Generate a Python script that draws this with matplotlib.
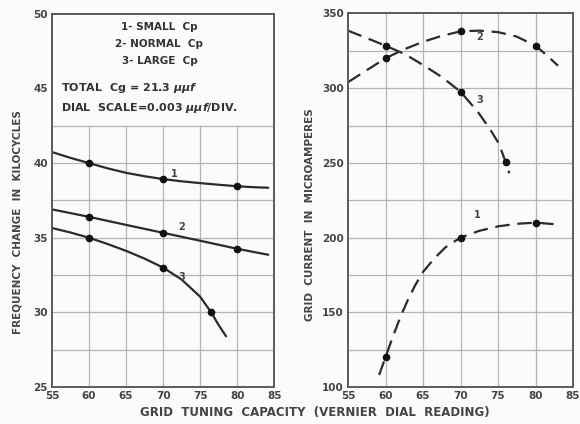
import matplotlib
matplotlib.use("Agg")
import matplotlib.pyplot as plt

# left chart: frequency change (kc) vs vernier dial reading
# curve traces read off the picture, measured points kept separate
f1_x = [55, 57.5, 60, 62.5, 65, 67.5, 70, 72.5, 75, 77.5, 80, 82.5, 84.2]
f1_y = [40.74, 40.35, 40.0, 39.65, 39.35, 39.12, 38.93, 38.78, 38.66, 38.55, 38.45, 38.38, 38.35]
f2_x = [55, 60, 65, 70, 75, 80, 84.2]
f2_y = [36.9, 36.4, 35.86, 35.33, 34.8, 34.26, 33.86]
f3_x = [55, 57.5, 60, 62.5, 65, 67.5, 70, 72.5, 75, 76.5, 77.5, 78.5]
f3_y = [35.65, 35.35, 35.0, 34.58, 34.12, 33.6, 33.0, 32.2, 31.05, 30.0, 29.15, 28.4]

f1_pts_x, f1_pts_y = [60, 70, 80], [40.0, 38.93, 38.45]
f2_pts_x, f2_pts_y = [60, 70, 80], [36.4, 35.33, 34.26]
f3_pts_x, f3_pts_y = [60, 70, 76.5], [35.0, 33.0, 30.0]

# right chart: grid current (microamperes)
g1_x = [59.15, 60, 61, 62, 63, 64, 65, 66.5, 68, 70, 72.5, 75, 77.5, 80, 82.4]
g1_y = [108, 120, 134, 147, 158.5, 168.5, 177, 186, 193.5, 200, 204.5, 207.5, 209.2, 210, 209]
g2_x = [55, 57.5, 60, 62.5, 65, 67.5, 70, 72.5, 75, 77.5, 80, 81.5, 83]
g2_y = [304, 312, 320, 326, 331, 335, 338, 338.5, 337.5, 334.5, 328.4, 322, 315]
g3_x = [55, 57.5, 60, 62.5, 65, 67.5, 70, 72.3, 74.0, 75.1, 76.0, 76.5]
g3_y = [338.5, 333.5, 328.4, 323, 315.5, 307.5, 297.6, 284.2, 272, 263, 250.8, 243]

g1_pts_x, g1_pts_y = [60, 70, 80], [120, 200, 210]
g2_pts_x, g2_pts_y = [60, 70, 80], [320, 338, 328.4]
g3_pts_x, g3_pts_y = [60, 70, 76.0], [328.4, 297.6, 250.8]

x_ticks = [55, 60, 65, 70, 75, 80, 85]
left_yticks = [25, 30, 35, 40, 45, 50]
right_yticks = [100, 150, 200, 250, 300, 350]

legend_lines = ["1- SMALL  Cp", "2- NORMAL  Cp", "3- LARGE  Cp"]

ink = "#2b2b2b"
grid_c = "#b4b4b4"
bg = "#fbfbf9"
plt.rcParams["font.family"] = ["DejaVu Sans"]
plt.rcParams["font.weight"] = "bold"

fig = plt.figure(figsize=(5.8, 4.24), dpi=100, facecolor=bg)
axL = fig.add_axes([0.0897, 0.0873, 0.383, 0.880])
axR = fig.add_axes([0.600, 0.0873, 0.388, 0.881])

for ax in (axL, axR):
    ax.set_facecolor(bg)
    for s in ax.spines.values():
        s.set_color("#5a5a5a")
        s.set_linewidth(1.4)
    ax.tick_params(length=0, pad=3, labelsize=7.5, colors="#444444")
    ax.set_xlim(55, 85)
    ax.set_xticks(x_ticks)

# left grid: only below 42.5, the note box above is left clear
axL.set_ylim(25, 50)
axL.set_yticks(left_yticks)
for y in [27.5, 30, 32.5, 35, 37.5, 40, 42.5]:
    axL.axhline(y, color=grid_c, lw=0.9, zorder=0)
for x in x_ticks[1:-1]:
    axL.plot([x, x], [25, 42.5], color=grid_c, lw=0.9, zorder=0)

axR.set_ylim(100, 350)
axR.set_yticks(right_yticks)
for y in range(125, 350, 25):
    axR.axhline(y, color=grid_c, lw=0.9, zorder=0)
for x in x_ticks[1:-1]:
    axR.axvline(x, color=grid_c, lw=0.9, zorder=0)

for cx, cy in [(f1_x, f1_y), (f2_x, f2_y), (f3_x, f3_y)]:
    axL.plot(cx, cy, color=ink, lw=1.6, solid_capstyle="round", solid_joinstyle="round")
for px, py in [(f1_pts_x, f1_pts_y), (f2_pts_x, f2_pts_y), (f3_pts_x, f3_pts_y)]:
    axL.plot(px, py, "o", color="#111111", ms=4.5, zorder=5)

for cx, cy in [(g1_x, g1_y), (g2_x, g2_y), (g3_x, g3_y)]:
    axR.plot(cx, cy, color=ink, lw=1.6, dashes=(6.5, 3.5))
for px, py in [(g1_pts_x, g1_pts_y), (g2_pts_x, g2_pts_y), (g3_pts_x, g3_pts_y)]:
    axR.plot(px, py, "o", color="#111111", ms=4.5, zorder=5)

# curve numbers
tk = dict(fontsize=7, color="#444444", ha="center", va="center")
axL.text(71.5, 39.25, "1", **tk)
axL.text(72.5, 35.7, "2", **tk)
axL.text(72.5, 32.4, "3", **tk)
axR.text(72.5, 334, "2", **tk)
axR.text(72.5, 292, "3", **tk)
axR.text(72.3, 215, "1", **tk)

# notes in the box
bx = dict(fontsize=7.5, color="#333333", ha="center", va="center")
for i, line in enumerate(legend_lines):
    axL.text(69.5, 49.15 - 1.15 * i, line, **bx)
axL.text(56.2, 45.0, r"TOTAL  Cg = 21.3 $\mu\mu f$", fontsize=8,
         color="#333333", ha="left", va="center")
axL.text(56.2, 43.7, r"DIAL  SCALE=0.003 $\mu\mu f$/DIV.", fontsize=8,
         color="#333333", ha="left", va="center")

fig.text(0.031, 0.476, "FREQUENCY  CHANGE  IN  KILOCYCLES", rotation=90,
         ha="center", va="center", fontsize=7.5, color="#444444")
fig.text(0.535, 0.493, "GRID  CURRENT  IN  MICROAMPERES", rotation=90,
         ha="center", va="center", fontsize=7.5, color="#444444")
fig.text(0.543, 0.028, "GRID  TUNING  CAPACITY  (VERNIER  DIAL  READING)",
         ha="center", va="center", fontsize=8.5, color="#444444")

fig.savefig("out.png", dpi=100, facecolor=bg)
